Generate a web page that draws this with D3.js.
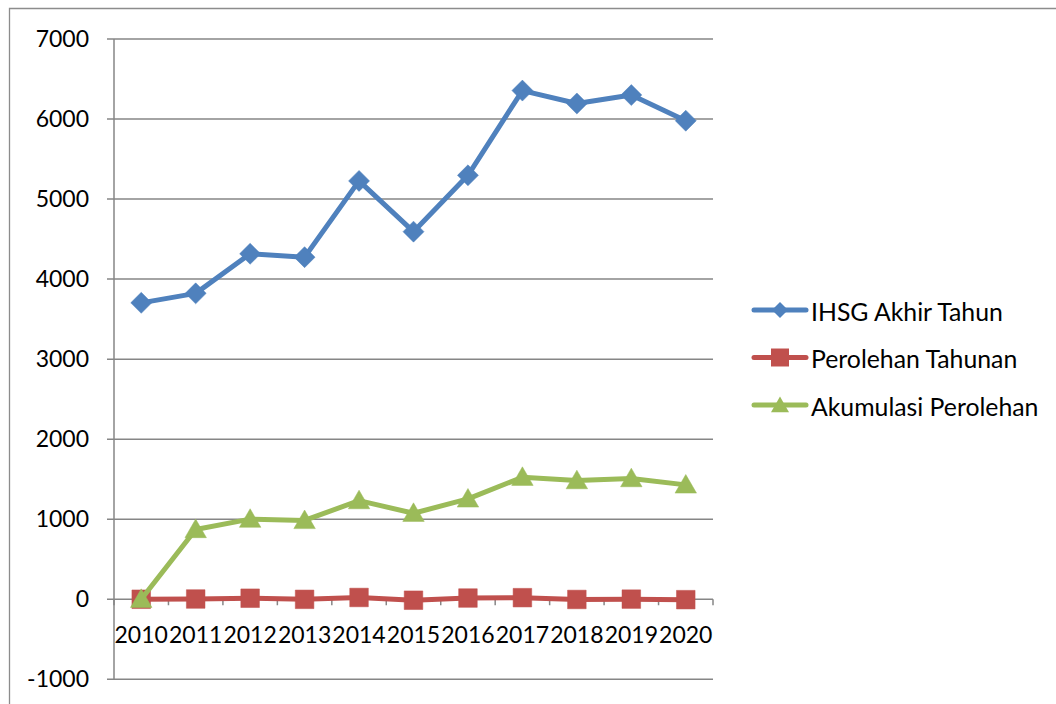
<!DOCTYPE html>
<html><head><meta charset="utf-8">
<script src="https://cdn.jsdelivr.net/npm/d3@7"></script>
<style>html,body{margin:0;padding:0;background:#fff;}svg{display:block;font-family:Lato,"Open Sans",sans-serif;}</style>
</head><body>
<svg id="c" width="1056" height="704"></svg>
<script>
const years = ["2010","2011","2012","2013","2014","2015","2016","2017","2018","2019","2020"];
const ihsg = [3703.51,3821.99,4316.69,4274.18,5226.95,4593.01,5296.71,6355.65,6194.50,6299.54,5979.07];
const perolehan = [0,3.2,12.94,-0.98,22.29,-12.13,15.32,19.99,-2.54,1.70,-5.09];
const akumulasi = [0,872,1001,985,1233,1075,1254,1525,1483,1508,1429];
const yTicks = [-1000,0,1000,2000,3000,4000,5000,6000,7000];
const seriesNames = ["IHSG Akhir Tahun","Perolehan Tahunan","Akumulasi Perolehan"];
const seriesColors = ["#4F81BD","#C0504D","#9BBB59"];
const seriesSymbols = [d3.symbolDiamond2, d3.symbolSquare2, d3.symbolTriangle2];

const svg = d3.select("#c");
const L=114, R=713, T=39, B=679.3;
const x = d3.scaleBand().domain(years).range([L,R]);
const y = d3.scaleLinear().domain([-1000,7000]).range([B,T]);
const grid="#868686";

// outer border (chart area frame, cropped)
svg.append("path").attr("d","M9.5,704 L9.5,8.5 L1056,8.5").attr("fill","none").attr("stroke","#8c8c8c").attr("stroke-width",1.3);

// gridlines
svg.append("g").selectAll("line").data(yTicks).join("line")
  .attr("x1",L-7).attr("x2",R).attr("y1",d=>y(d)).attr("y2",d=>y(d))
  .attr("stroke",grid).attr("stroke-width",1.5);
// y axis line
svg.append("line").attr("x1",L).attr("x2",L).attr("y1",T).attr("y2",B).attr("stroke",grid).attr("stroke-width",1.5);
// y tick labels
svg.append("g").selectAll("text").data(yTicks).join("text")
  .attr("x",89).attr("y",d=>y(d)).attr("dy","0.35em").attr("text-anchor","end")
  .attr("font-size",23).attr("fill","#000").text(d=>d);
// x axis ticks at band boundaries
const bounds = years.map(d=>x(d)).concat([R]);
svg.append("g").selectAll("line").data(bounds).join("line")
  .attr("x1",d=>d).attr("x2",d=>d).attr("y1",y(0)).attr("y2",y(0)+6)
  .attr("stroke",grid).attr("stroke-width",1.5);
// x labels
svg.append("g").selectAll("text").data(years).join("text")
  .attr("x",d=>x(d)+x.bandwidth()/2).attr("y",643).attr("text-anchor","middle")
  .attr("font-size",23).attr("fill","#000").text(d=>d);

const all=[ihsg,perolehan,akumulasi];
const line=d3.line().x((d,i)=>x(years[i])+x.bandwidth()/2).y(d=>y(d));
const sizes=[281,440,330];
all.forEach((vals,k)=>{
  const g=svg.append("g");
  g.append("path").attr("d",line(vals)).attr("fill","none").attr("stroke",seriesColors[k]).attr("stroke-width",5).attr("stroke-linejoin","round");
  g.selectAll("path.m").data(vals).join("path").attr("class","m")
    .attr("d",d3.symbol().type(seriesSymbols[k]).size(sizes[k]))
    .attr("transform",(d,i)=>`translate(${x(years[i])+x.bandwidth()/2},${y(d)+(k===2?2:0)})`)
    .attr("fill",seriesColors[k]).attr("stroke",seriesColors[k]).attr("stroke-width",0.5);
});

// legend
const lg=svg.append("g");
const lsizes=[163,412,232];
seriesNames.forEach((n,k)=>{
  const cy=310+k*47.5;
  lg.append("line").attr("x1",754).attr("x2",806).attr("y1",cy).attr("y2",cy).attr("stroke",seriesColors[k]).attr("stroke-width",5).attr("stroke-linecap","round");
  lg.append("path").attr("d",d3.symbol().type(seriesSymbols[k]).size(lsizes[k])).attr("transform",`translate(780,${cy+(k===2?2:0)})`).attr("fill",seriesColors[k]);
  lg.append("text").attr("x",811).attr("y",cy+2).attr("dy","0.35em").attr("font-size",24.8).attr("fill","#000").text(n);
});
</script>
</body></html>
